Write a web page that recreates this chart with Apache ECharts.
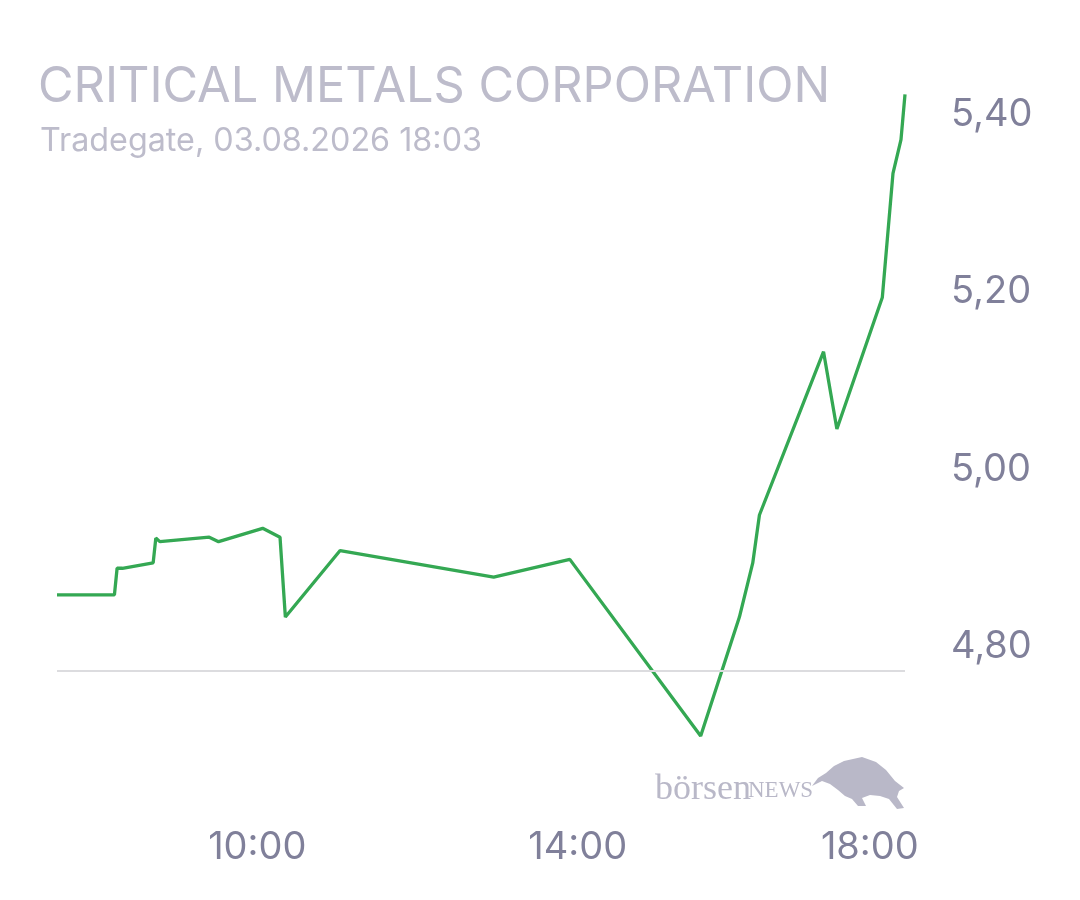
<!DOCTYPE html>
<html>
<head>
<meta charset="utf-8">
<title>Critical Metals Corporation</title>
<script src="https://cdn.jsdelivr.net/npm/echarts@6/dist/echarts.min.js"></script>
<style>
  html, body { margin: 0; padding: 0; background: #fff; }
  #chart { width: 1080px; height: 900px; }
</style>
</head>
<body>
<div id="chart"></div>
<script>
// Kursdaten (Tradegate, Intraday)
var times = ['07:30', '08:13', '08:15', '08:19', '08:42', '08:44', '08:47', '09:24', '09:31', '10:04',
  '10:17', '10:21', '11:02', '12:57', '13:54', '15:32', '16:01', '16:11', '16:16', '17:04',
  '17:14', '17:48', '17:56', '18:02', '18:05'];
var prices = [4.855, 4.855, 4.885, 4.885, 4.891, 4.919, 4.915, 4.920, 4.915, 4.930,
  4.920, 4.830, 4.905, 4.875, 4.895, 4.696, 4.830, 4.891, 4.945, 5.129,
  5.042, 5.190, 5.330, 5.368, 5.419];
var prevClose = 4.7665;

// Achsenbeschriftungen
var xTicks = ['10:00', '14:00', '18:00'];
var yTicks = [4.80, 5.00, 5.20, 5.40];

var titleText = 'CRITICAL METALS CORPORATION';
var subText = 'Tradegate, 03.08.2026 18:03';

function toMinutes(s) {
  var p = s.split(':');
  return (+p[0]) * 60 + (+p[1]);
}

function pad(n) {
  return (n < 10 ? '0' : '') + n;
}

var lineData = times.map(function (t, i) {
  return [toMinutes(t), prices[i]];
});
var lastTick = toMinutes(xTicks[xTicks.length - 1]);

var chart = echarts.init(document.getElementById('chart'));

var option = {
  animation: false,
  backgroundColor: '#ffffff',
  title: [
    {
      text: titleText,
      left: 33,
      top: 58,
      textStyle: { fontFamily: 'Inter', fontSize: 48.7, fontWeight: 'normal', color: '#bdbccb' }
    },
    {
      text: subText,
      left: 35,
      top: 120,
      textStyle: { fontFamily: 'Inter', fontSize: 32.3, fontWeight: 'normal', color: '#bdbccb' }
    }
  ],
  grid: {
    left: 57,
    right: 175,
    top: 22.45,
    bottom: 78.8
  },
  xAxis: {
    type: 'value',
    min: toMinutes(times[0]),
    max: toMinutes(times[times.length - 1]),
    axisLine: { show: false },
    axisTick: { show: false },
    splitLine: { show: false },
    axisLabel: {
      customValues: xTicks.map(toMinutes),
      margin: 7,
      formatter: function (v) {
        var s = pad(Math.floor(v / 60)) + ':' + pad(v % 60);
        return v === lastTick ? '{e|' + s + '}' : '{n|' + s + '}';
      },
      rich: {
        n: { fontFamily: 'Inter', fontSize: 38, color: '#80809a' },
        e: { fontFamily: 'Inter', fontSize: 38, color: '#80809a', padding: [0, 57, 0, 0] }
      }
    }
  },
  yAxis: {
    type: 'value',
    position: 'right',
    min: 4.6,
    max: 5.5,
    axisLine: { show: false },
    axisTick: { show: false },
    splitLine: { show: false },
    axisLabel: {
      customValues: yTicks,
      margin: 46,
      formatter: function (v) {
        return '{v|' + v.toFixed(2).replace('.', ',') + '}';
      },
      rich: {
        v: { fontFamily: 'Inter', fontSize: 38, color: '#80809a', padding: [6, 0, 0, 0] }
      }
    }
  },
  // börsenNEWS Logo
  graphic: [
    {
      type: 'text',
      x: 655,
      y: 772,
      style: { text: 'börsen', font: '36px "Liberation Serif"', fill: '#b9b8c8' }
    },
    {
      type: 'text',
      x: 748,
      y: 779,
      style: { text: 'NEWS', font: '23px "Liberation Serif"', fill: '#b9b8c8' }
    },
    {
      type: 'polygon',
      shape: {
        points: [[812, 786], [818, 778], [826, 773], [834, 766], [844, 761], [862, 757], [876, 762],
          [886, 770], [895, 781], [904, 788], [899, 791], [897, 797], [904, 808], [897, 809],
          [889, 799], [880, 796], [870, 795], [862, 798], [866, 806], [858, 806], [852, 799],
          [845, 796], [838, 790], [830, 784], [822, 781]]
      },
      style: { fill: '#b9b8c8' }
    }
  ],
  series: [
    {
      type: 'line',
      data: lineData,
      showSymbol: false,
      symbol: 'none',
      lineStyle: { color: '#34a853', width: 3.3 },
      markLine: {
        silent: true,
        symbol: 'none',
        label: { show: false },
        lineStyle: { color: '#dcdcdf', width: 2, type: 'solid' },
        data: [{ yAxis: prevClose }]
      },
      z: 3
    }
  ]
};

chart.setOption(option);
</script>
</body>
</html>
